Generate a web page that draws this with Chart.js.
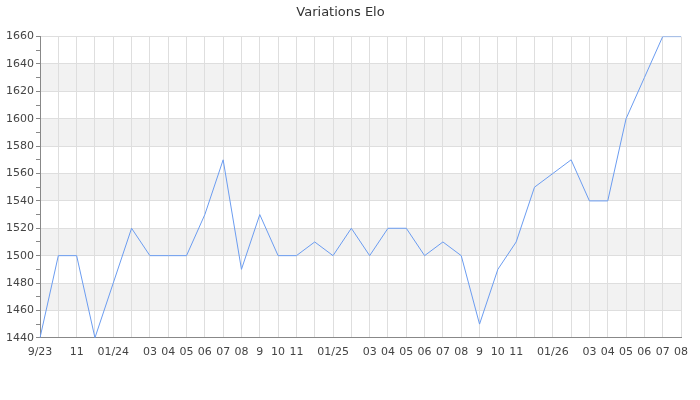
<!DOCTYPE html>
<html>
<head>
<meta charset="utf-8">
<script src="https://cdn.jsdelivr.net/npm/chart.js@4.4.0/dist/chart.umd.min.js"></script>
<style>
  body { margin: 0; background: #fff; }
  #wrap { width: 700px; height: 400px; }
</style>
</head>
<body>
<div id="wrap"><canvas id="eloChart"></canvas></div>
<script>
// months from 2023-09 to 2026-08
const months = [
  '2023-09','2023-10','2023-11','2023-12','2024-01','2024-02','2024-03','2024-04','2024-05',
  '2024-06','2024-07','2024-08','2024-09','2024-10','2024-11','2024-12','2025-01','2025-02',
  '2025-03','2025-04','2025-05','2025-06','2025-07','2025-08','2025-09','2025-10','2025-11',
  '2025-12','2026-01','2026-02','2026-03','2026-04','2026-05','2026-06','2026-07','2026-08'
];
// labels shown under the axis (blank = skipped)
const tickLabels = [
  '9/23','','11','','01/24','','03','04','05',
  '06','07','08','9','10','11','','01/25','',
  '03','04','05','06','07','08','9','10','11',
  '','01/26','','03','04','05','06','07','08'
];
const elo = [
  1440, 1500, 1500, 1440, 1480, 1520, 1500, 1500, 1500,
  1530, 1570, 1490, 1530, 1500, 1500, 1510, 1500, 1520,
  1500, 1520, 1520, 1500, 1510, 1500, 1450, 1490, 1510,
  1550, 1560, 1570, 1540, 1540, 1600, 1630, 1660, 1660
];
const yMin = 1440, yMax = 1660;

// grey stripes every other 20 pts
const bandsPlugin = {
  id: 'bands',
  beforeDraw(chart) {
    const { ctx, chartArea, scales } = chart;
    const y = scales.y;
    ctx.save();
    ctx.fillStyle = '#f2f2f2';
    for (let v = yMin + 20; v < yMax; v += 40) {
      const top = y.getPixelForValue(v + 20);
      const bot = y.getPixelForValue(v);
      ctx.fillRect(chartArea.left, top, chartArea.right - chartArea.left, bot - top);
    }
    ctx.restore();
  }
};

Chart.defaults.font.family = '"DejaVu Sans", sans-serif';
Chart.defaults.font.size = 11;
Chart.defaults.color = '#444';

new Chart(document.getElementById('eloChart'), {
  type: 'line',
  data: {
    labels: months,
    datasets: [{
      label: 'Elo',
      data: elo,
      borderColor: '#6b9cf0',
      borderWidth: 1,
      pointRadius: 0,
      tension: 0,
      fill: false
    }]
  },
  options: {
    responsive: true,
    maintainAspectRatio: false,
    animation: false,
    layout: { padding: { left: 0, right: 19, top: 0, bottom: 33 } },
    plugins: {
      legend: { display: false },
      tooltip: { enabled: false },
      title: {
        display: true,
        text: 'Variations Elo',
        color: '#333',
        font: { size: 13, weight: 'normal' },
        padding: { top: 5, bottom: 16 }
      }
    },
    scales: {
      x: {
        offset: false,
        grid: { color: '#dedede', drawTicks: false },
        border: { color: '#888' },
        ticks: {
          autoSkip: false,
          maxRotation: 0,
          padding: 8,
          callback: (val, i) => tickLabels[i]
        }
      },
      y: {
        min: yMin,
        max: yMax,
        afterFit: (s) => { s.width = 40; },
        grid: {
          color: (c) => (c.tick.value % 20 === 0 ? '#dedede' : 'transparent'),
          tickColor: '#888',
          tickLength: 4
        },
        border: { color: '#888' },
        ticks: {
          stepSize: 10,
          autoSkip: false,
          padding: 2,
          callback: (v) => (v % 20 === 0 ? v : '')
        }
      }
    }
  },
  plugins: [bandsPlugin]
});
</script>
</body>
</html>
